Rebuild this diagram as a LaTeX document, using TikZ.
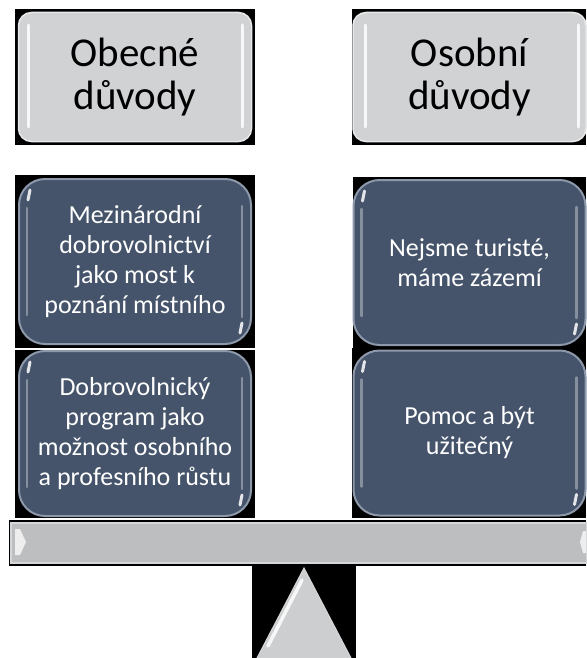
\documentclass[tikz,border=0pt]{standalone}
\usepackage{fontspec}
\setmainfont{Carlito}
\definecolor{hdrgray}{HTML}{D1D2D4}
\definecolor{hdredge}{HTML}{E8E9EA}
\definecolor{darkblue}{HTML}{45546B}
\definecolor{rim}{HTML}{8D99AA}
\definecolor{bargray}{HTML}{BDBEC0}
\definecolor{baredge}{HTML}{D6D7D9}
\definecolor{trigray}{HTML}{CDCED0}
\begin{document}
\begin{tikzpicture}[x=1pt,y=-1pt,
  hdr/.style={rounded corners=13pt, fill=hdrgray, draw=hdredge, line width=1.5pt,
    minimum width=233pt, minimum height=129pt, inner sep=0pt, align=center,
    font=\fontsize{41}{43}\selectfont, text=black},
  item/.style={rounded corners=26pt, fill=darkblue, draw=rim, line width=2pt,
    minimum width=232pt, minimum height=165pt, inner sep=0pt, align=center,
    font=\fontsize{26}{30}\selectfont, text=white},
  gloss/.style={white, line width=3pt, line cap=round, opacity=0.85},
  softgloss/.style={white, line width=2.5pt, line cap=round, opacity=0.35}]
\useasboundingbox (0,0) rectangle (586,658);
% black backgrounds
\fill[black] (15,9) rectangle (255,145);
\fill[black] (352,9) rectangle (586,145);
\fill[black] (15,175) rectangle (255,348);
\fill[black] (15,350) rectangle (255,518);
\fill[black] (353,177) rectangle (586,348);
\fill[black] (352,348) rectangle (586,518);
\fill[black] (9,520) rectangle (586,566);
\fill[black] (252,566) rectangle (356,658);
% header boxes
\node[hdr] (h1) at (135,77) {Obecné\\důvody};
\node[hdr] (h2) at (469.5,77) {Osobní\\důvody};
\draw[gloss] (28,25) -- (28,127);
\draw[gloss] (242,25) -- (242,127);
\draw[gloss] (365,25) -- (365,127);
\draw[gloss] (578,25) -- (578,127);
% item boxes
\node[item] (a) at (135,261.5) {Mezinárodní\\dobrovolnictví\\jako most k\\poznání místního};
\node[item] (b) at (135,433.5) {Dobrovolnický\\program jako\\možnost osobního\\a profesního růstu};
\node[item] (c) at (469.5,262.5) {Nejsme turisté,\\máme zázemí};
\node[item] (d) at (469.5,433) {Pomoc a být\\užitečný};
\foreach \n in {a,b,c,d}{
  \draw[gloss] ([xshift=10pt,yshift=-22pt]\n.north west) -- ([xshift=12pt,yshift=-12pt]\n.north west);
  \draw[softgloss] ([xshift=9pt,yshift=-30pt]\n.north west) -- ([xshift=9pt,yshift=30pt]\n.south west);
  \draw[softgloss] ([xshift=-10pt,yshift=-28pt]\n.north east) -- ([xshift=-10pt,yshift=28pt]\n.south east);
  \draw[gloss] ([xshift=-10pt,yshift=22pt]\n.south east) -- ([xshift=-12pt,yshift=12pt]\n.south east);
}
% beam
\node[fill=bargray, draw=baredge, line width=2pt, minimum width=576pt, minimum height=40pt, inner sep=0pt] (beam) at (299,543) {};
\fill[white, opacity=0.75] (15,529) -- (20,529) -- (26,542) -- (20,555) -- (15,555) -- cycle;
\fill[white, opacity=0.75] (586,531) -- (583,531) -- (580,542) -- (583,553) -- (586,553) -- cycle;
% fulcrum
\fill[trigray, draw=baredge, line width=1pt] (304,568) coordinate (apex) -- (351,658) -- (257,658) -- cycle;
\draw[gloss, line width=3.5pt] (302,580) -- (268,646);
\end{tikzpicture}
\end{document}
